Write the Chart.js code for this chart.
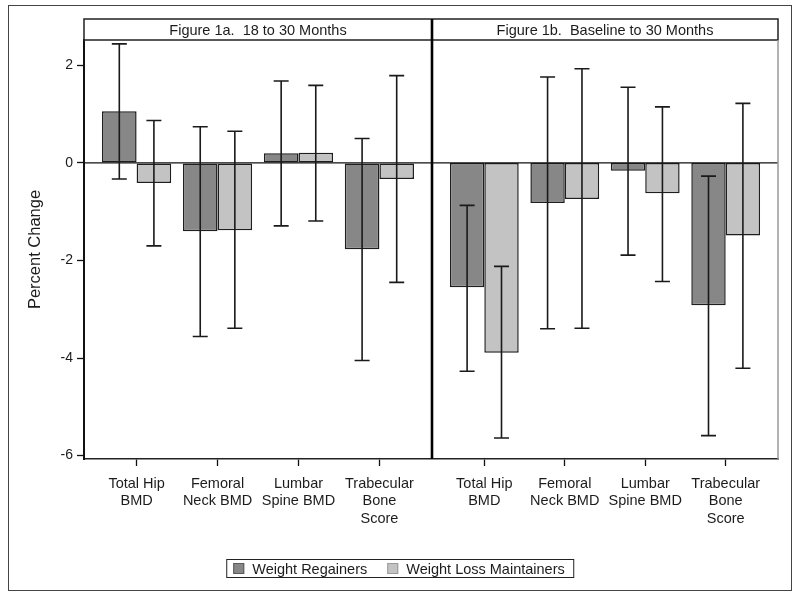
<!DOCTYPE html>
<html><head><meta charset="utf-8">
<script src="https://cdn.jsdelivr.net/npm/chart.js@4.4.1/dist/chart.umd.min.js"></script>
<style>
html,body{margin:0;padding:0;background:#fff}
#wrap{position:relative;width:800px;height:598px;overflow:hidden;background:#fff}
canvas{position:absolute;top:0;display:block}
#frame{position:absolute;left:8px;top:5px;width:784px;height:586px;border:1.5px solid #444;box-sizing:border-box;pointer-events:none}
#legend{position:absolute;top:559px;left:400px;transform:translateX(-50%);height:19px;border:1.2px solid #222;box-sizing:border-box;
  display:flex;align-items:center;padding:0 8px 0 6px;font:14.5px 'Liberation Sans',Arial,sans-serif;color:#1c1c1c;white-space:nowrap}
#legend .sw{display:inline-block;width:11px;height:11px;box-sizing:border-box;margin-right:8px}
#legend .item{display:flex;align-items:center}
#legend .item + .item{margin-left:20px}
</style>
</head><body>
<div id="wrap">
  <canvas id="cA" width="432" height="598" style="left:0"></canvas>
  <canvas id="cB" width="368" height="598" style="left:432px"></canvas>
  <div id="frame"></div>
  <div id="legend"></div>
</div>
<script>
// ---- data ----
const categories = [["Total Hip","BMD"],["Femoral","Neck BMD"],["Lumbar","Spine BMD"],["Trabecular","Bone","Score"]];
const panelTitles = ["Figure 1a.  18 to 30 Months", "Figure 1b.  Baseline to 30 Months"];
const seriesNames = ["Weight Regainers", "Weight Loss Maintainers"];
const yTicks = [-6, -4, -2, 0, 2];
const yTitle = "Percent Change";

const regain1a      = [1.06, -1.40, 0.20, -1.77];
const regain1aLow   = [-0.33, -3.56, -1.29, -4.05];
const regain1aHigh  = [2.44, 0.74, 1.68, 0.50];
const maintain1a     = [-0.41, -1.38, 0.21, -0.33];
const maintain1aLow  = [-1.70, -3.39, -1.19, -2.45];
const maintain1aHigh = [0.87, 0.65, 1.59, 1.79];

const regain1b      = [-2.55, -0.82, -0.16, -2.92];
const regain1bLow   = [-4.27, -3.40, -1.89, -5.59];
const regain1bHigh  = [-0.87, 1.76, 1.55, -0.27];
const maintain1b     = [-3.89, -0.74, -0.62, -1.49];
const maintain1bLow  = [-5.64, -3.39, -2.43, -4.21];
const maintain1bHigh = [-2.12, 1.93, 1.15, 1.22];

// ---- styles ----
const FONT = "'Liberation Sans', Arial, Helvetica, sans-serif";
const TXT = '#1c1c1c';
const FILLS = ['#878787', '#c3c3c3'];
const SW_EDGES = ['#5a5a5a', '#9a9a9a'];
const EDGE = '#1e1e1e';

function pts(vals){ return vals.map((v,i)=>({x:i, y:v})); }
function ds(k, vals, lo, hi){
  return {label: seriesNames[k], data: pts(vals), errLow: lo, errHigh: hi,
    backgroundColor: FILLS[k], borderColor: EDGE, borderWidth: 1.5, borderSkipped: false,
    categoryPercentage: 0.855, barPercentage: 1.0};
}

const panelPlugin = {
  id: 'panel',
  beforeDraw(chart){
    const c = chart.ctx; c.save(); c.fillStyle = '#fff'; c.fillRect(0,0,chart.width,chart.height); c.restore();
  },
  afterDatasetsDraw(chart){
    const c = chart.ctx, y = chart.scales.y, a = chart.chartArea;
    c.save();
    const y0 = y.getPixelForValue(0);
    c.strokeStyle = '#111'; c.lineWidth = 1.3;
    c.beginPath(); c.moveTo(a.left, y0); c.lineTo(a.right, y0); c.stroke();
    c.strokeStyle = '#1a1a1a'; c.lineWidth = 1.6;
    chart.data.datasets.forEach((d, di) => {
      const meta = chart.getDatasetMeta(di);
      meta.data.forEach((el, i) => {
        const x = el.x, yl = y.getPixelForValue(d.errLow[i]), yh = y.getPixelForValue(d.errHigh[i]);
        c.beginPath();
        c.moveTo(x, yl); c.lineTo(x, yh);
        c.moveTo(x-7.5, yl); c.lineTo(x+7.5, yl);
        c.moveTo(x-7.5, yh); c.lineTo(x+7.5, yh);
        c.stroke();
      });
    });
    c.restore();
  },
  afterDraw(chart){
    const c = chart.ctx, a = chart.chartArea, s = chart.scales.x;
    const k = chart.options.panelIndex;
    const hTop = 19;
    c.save();
    c.strokeStyle = '#222'; c.lineWidth = 1.5;
    c.strokeRect(s.left, hTop, s.right - s.left, a.top - hTop);
    c.fillStyle = TXT; c.font = `14.5px ${FONT}`; c.textAlign = 'center'; c.textBaseline = 'middle';
    c.fillText(panelTitles[k], (s.left + s.right)/2, (hTop + a.top)/2 + 1);
    c.strokeStyle = '#000'; c.lineWidth = 2.6;
    if (k === 0) {
      c.beginPath(); c.moveTo(a.right, hTop); c.lineTo(a.right, a.bottom); c.stroke();
    } else {
      c.beginPath(); c.moveTo(a.left, hTop); c.lineTo(a.left, a.bottom); c.stroke();
      c.strokeStyle = '#9a9a9a'; c.lineWidth = 1.5;
      c.beginPath(); c.moveTo(a.right, a.top); c.lineTo(a.right, a.bottom); c.stroke();
    }
    c.restore();
  }
};

function makePanel(canvasId, k, sets){
  const first = k === 0;
  return new Chart(document.getElementById(canvasId), {
    type: 'bar',
    data: { datasets: sets },
    options: {
      panelIndex: k,
      responsive: false, animation: false, devicePixelRatio: 1,
      layout: { padding: { left: 0, right: first ? 0 : 22, top: 40, bottom: 49 } },
      plugins: { legend: { display: false }, tooltip: { enabled: false }, title: { display: false } },
      scales: {
        x: {
          type: 'linear', position: 'bottom',
          min: -0.65, max: 3.65, bounds: 'data', offset: false,
          afterBuildTicks: s => { s.ticks = categories.map((c,i)=>({value:i})); },
          afterFit: s => { s.height = 90; },
          ticks: { callback: v => categories[v], font: {family: FONT, size: 14.5}, color: TXT,
                   padding: 9, maxRotation: 0, autoSkip: false },
          grid: { offset: false, drawOnChartArea: false, drawTicks: true, tickLength: 7, tickColor: '#111', tickWidth: 1.3 },
          border: { display: true, color: '#222', width: 1.5 }
        },
        y: {
          type: 'linear', position: 'left', min: -6.07, max: 2.52, bounds: 'data', display: first,
          afterBuildTicks: s => { s.ticks = yTicks.map(v => ({value: v})); },
          afterFit: s => { s.width = first ? 84 : 0; },
          ticks: { font: {family: FONT, size: 14}, color: TXT, padding: 4 },
          grid: { drawOnChartArea: false, drawTicks: true, tickLength: 7, tickColor: '#111', tickWidth: 1.3 },
          border: { display: true, color: '#111', width: 2 },
          title: { display: true, text: yTitle, color: TXT, font: {family: FONT, size: 16.5}, padding: {top: 26, bottom: 0} }
        }
      }
    },
    plugins: [panelPlugin]
  });
}

makePanel('cA', 0, [ds(0, regain1a, regain1aLow, regain1aHigh), ds(1, maintain1a, maintain1aLow, maintain1aHigh)]);
makePanel('cB', 1, [ds(0, regain1b, regain1bLow, regain1bHigh), ds(1, maintain1b, maintain1bLow, maintain1bHigh)]);

// legend
const leg = document.getElementById('legend');
seriesNames.forEach((name, k) => {
  const item = document.createElement('span'); item.className = 'item';
  const sw = document.createElement('span'); sw.className = 'sw';
  sw.style.background = FILLS[k]; sw.style.border = '1px solid ' + SW_EDGES[k];
  const t = document.createElement('span'); t.textContent = name;
  item.appendChild(sw); item.appendChild(t); leg.appendChild(item);
});
</script>
</body></html>
